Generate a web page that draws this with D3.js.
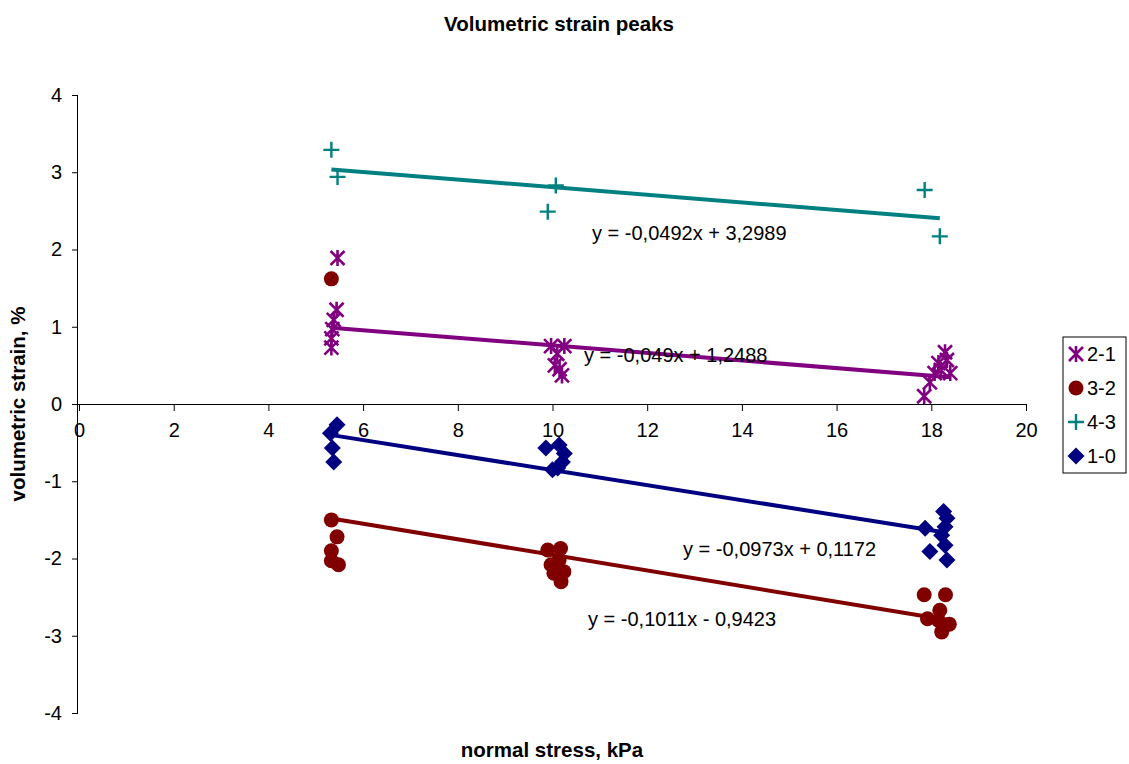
<!DOCTYPE html>
<html><head><meta charset="utf-8">
<script src="https://cdn.jsdelivr.net/npm/d3@7"></script>
<style>body{margin:0;background:#fff}text{font-family:"Liberation Sans",Arial,sans-serif}</style>
</head><body><svg id="c" width="1129" height="764"></svg>
<script>
const seriesNames = ["2-1","3-2","4-3","1-0"];
const s21 = [[5.46,1.89],[5.44,1.22],[5.38,1.09],[5.35,0.97],[5.33,0.85],[5.33,0.73],
  [9.97,0.75],[10.25,0.75],[10.1,0.65],[10.05,0.5],[10.15,0.45],[10.2,0.37],
  [17.85,0.1],[17.97,0.28],[18.07,0.4],[18.15,0.53],[18.2,0.44],[18.29,0.67],[18.33,0.57],[18.4,0.4]];
const s32 = [[5.33,1.62],[5.33,-1.5],[5.45,-1.72],[5.33,-1.9],[5.33,-2.03],[5.48,-2.08],
  [9.9,-1.89],[10.17,-1.87],[9.97,-2.08],[10.14,-2.02],[10.03,-2.19],[10.24,-2.17],[10.18,-2.3],
  [17.85,-2.47],[18.3,-2.47],[18.18,-2.67],[17.92,-2.78],[18.15,-2.8],[18.38,-2.85],[18.22,-2.95]];
const s43 = [[5.33,3.29],[5.46,2.94],[10.07,2.83],[9.9,2.49],[17.86,2.77],[18.18,2.17]];
const s10 = [[5.45,-0.27],[5.31,-0.38],[5.35,-0.57],[5.38,-0.75],
  [9.86,-0.57],[10.14,-0.53],[10.25,-0.64],[10.21,-0.75],[10.11,-0.83],[10.0,-0.85],
  [18.26,-1.39],[18.33,-1.48],[18.29,-1.59],[17.87,-1.61],[18.22,-1.7],[18.29,-1.83],[17.97,-1.91],[18.33,-2.02]];
const slopes = [-0.049,-0.1011,-0.0492,-0.0973];
const intercepts = [1.2488,-0.9423,3.2989,0.1172];
const eqLabels = ["y = -0,049x + 1,2488","y = -0,1011x - 0,9423","y = -0,0492x + 3,2989","y = -0,0973x + 0,1172"];
const xTicks = [0,2,4,6,8,10,12,14,16,18,20];
const yTicks = [-4,-3,-2,-1,0,1,2,3,4];

const data = [s21,s32,s43,s10];
const colors = ["#800080","#800000","#008080","#000080"];
const eqPos = [[584,362],[588,626],[592,240],[683,556]];
const FS = 20;

const svg = d3.select("#c");
const x = d3.scaleLinear().domain([0,20]).range([79,1026]);
const y = d3.scaleLinear().domain([-4,4]).range([713,95]);
const fmt = d => String(d);

svg.append("text").attr("x",559).attr("y",31).attr("text-anchor","middle")
  .attr("font-weight","bold").attr("font-size",20.5).text("Volumetric strain peaks");
svg.append("text").attr("x",552).attr("y",757).attr("text-anchor","middle")
  .attr("font-weight","bold").attr("font-size",20.5).text("normal stress, kPa");
svg.append("text").attr("transform","translate(25,404) rotate(-90)").attr("text-anchor","middle")
  .attr("font-weight","bold").attr("font-size",20.5).text("volumetric strain, %");

const yAxis = svg.append("g").attr("transform","translate(78,0)")
  .call(d3.axisLeft(y).tickValues(yTicks).tickSize(6).tickPadding(10).tickFormat(fmt));
yAxis.selectAll("text").attr("font-size",FS).attr("font-family","Liberation Sans, Arial").attr("fill","#000");
const xAxis = svg.append("g").attr("transform",`translate(0,${y(0)})`)
  .call(d3.axisBottom(x).tickValues(xTicks).tickSize(7).tickPadding(12).tickFormat(fmt));
xAxis.selectAll("text").attr("font-size",FS).attr("font-family","Liberation Sans, Arial").attr("fill","#000");
svg.selectAll(".domain").attr("stroke","#000");
svg.selectAll(".tick line").attr("stroke","#000");
xAxis.select(".domain").attr("d",`M78,0.5H1026`);
yAxis.select(".domain").attr("d",`M-0.5,95V713`);

// trendlines
data.forEach((s,i)=>{
  const ext = d3.extent(s,d=>d[0]);
  svg.append("line").attr("x1",x(ext[0])).attr("x2",x(ext[1]))
    .attr("y1",y(slopes[i]*ext[0]+intercepts[i])).attr("y2",y(slopes[i]*ext[1]+intercepts[i]))
    .attr("stroke",colors[i]).attr("stroke-width",4);
});

function marker(g,type,cx,cy,col){
  if(type===0){
    const r=7;
    g.append("path").attr("d",`M${cx-r},${cy-r}L${cx+r},${cy+r}M${cx-r},${cy+r}L${cx+r},${cy-r}M${cx},${cy-r-1}L${cx},${cy+r+1}`)
      .attr("stroke",col).attr("stroke-width",2.6).attr("fill","none");
  } else if(type===1){
    g.append("circle").attr("cx",cx).attr("cy",cy).attr("r",7.5).attr("fill",col);
  } else if(type===2){
    const r=8;
    g.append("path").attr("d",`M${cx-r},${cy}L${cx+r},${cy}M${cx},${cy-r}L${cx},${cy+r}`)
      .attr("stroke",col).attr("stroke-width",2.4).attr("fill","none");
  } else {
    const r=8.5;
    g.append("path").attr("d",`M${cx},${cy-r}L${cx+r},${cy}L${cx},${cy+r}L${cx-r},${cy}Z`).attr("fill",col);
  }
}

data.forEach((s,i)=>{
  const g = svg.append("g");
  s.forEach(d=>marker(g,i,x(d[0]),y(d[1]),colors[i]));
});

eqLabels.forEach((t,i)=>{
  svg.append("text").attr("x",eqPos[i][0]).attr("y",eqPos[i][1]).attr("font-size",FS).text(t);
});

// legend
const lg = svg.append("g");
lg.append("rect").attr("x",1063).attr("y",337).attr("width",63).attr("height",136)
  .attr("fill","#fff").attr("stroke","#000").attr("stroke-width",1);
seriesNames.forEach((n,i)=>{
  const cy = 354 + i*34;
  marker(lg,i,1076,cy,colors[i]);
  lg.append("text").attr("x",1087).attr("y",cy+7).attr("font-size",FS).text(n);
});
</script></body></html>
